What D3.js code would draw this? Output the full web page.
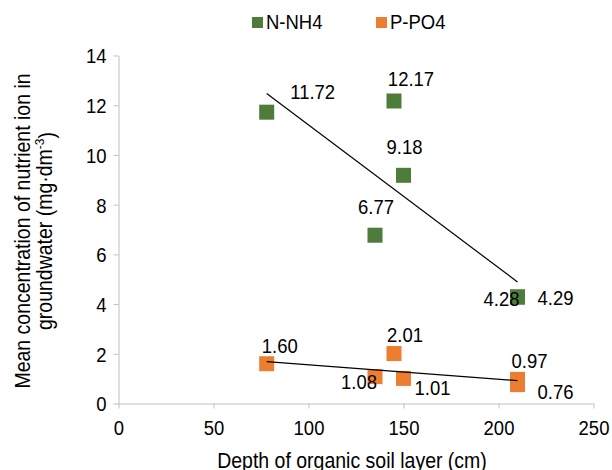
<!DOCTYPE html>
<html>
<head>
<meta charset="utf-8">
<script src="https://cdn.jsdelivr.net/npm/d3@7"></script>
<style>
  html, body { margin: 0; padding: 0; background: #ffffff; }
  svg { display: block; font-family: "Liberation Sans", Arial, sans-serif; }
</style>
</head>
<body>
<svg id="chart" width="612" height="470"></svg>
<script>
// ---- data ----
const depth = [78, 145, 150, 135, 210, 210];
const nNH4 = [11.72, 12.17, 9.18, 6.77, 4.28, 4.29];
const pDepth = [78, 145, 135, 150, 210, 210];
const pPO4 = [1.60, 2.01, 1.08, 1.01, 0.97, 0.76];
const seriesNames = ["N-NH4", "P-PO4"];
const xTicks = [0, 50, 100, 150, 200, 250];
const yTicks = [0, 2, 4, 6, 8, 10, 12, 14];

// label offsets (pixels) relative to markers
const nLabelOffsets = [[46, -21], [17, -22], [1, -29], [1, -29], [-16, 1], [38, 1]];
const pLabelOffsets = [[13, -18], [11, -19], [-16, 5], [29, 9], [12, -19], [38, 7]];

const colors = ["#4e7d3b", "#ed7d31"];
const SY = 1.12; // vertical stretch of the lettering

const svg = d3.select("#chart");
const x = d3.scaleLinear().domain([0, 250]).range([118.5, 593.5]);
const y = d3.scaleLinear().domain([0, 14]).range([403.5, 55.5]);

// axes
const xAxis = d3.axisBottom(x).tickValues(xTicks).tickSize(5).tickSizeOuter(0);
const yAxis = d3.axisLeft(y).tickValues(yTicks).tickSize(5).tickSizeOuter(0);

const gx = svg.append("g").attr("transform", `translate(0,${y(0)})`).call(xAxis);
const gy = svg.append("g").attr("transform", `translate(${x(0)},0)`).call(yAxis);
[gx, gy].forEach(g => {
  g.select(".domain").attr("stroke", "#bfbfbf").attr("stroke-width", 1);
  g.selectAll(".tick line").attr("stroke", "#bfbfbf").attr("stroke-width", 1);
  g.selectAll(".tick text").attr("fill", "#000").attr("font-size", 18.5)
    .attr("font-family", "Liberation Sans, Arial, sans-serif");
});
gx.selectAll(".tick text").attr("dy", null).attr("y", 0).attr("x", 0)
  .attr("transform", `translate(0,31) scale(1,${SY})`);
gy.selectAll(".tick text").attr("x", 0).attr("y", 0).attr("dy", "0.36em")
  .attr("transform", `translate(-12,0) scale(1,${SY})`);

// trend line (least squares)
function fit(xs, ys) {
  const n = xs.length;
  const mx = d3.mean(xs), my = d3.mean(ys);
  let sxy = 0, sxx = 0;
  for (let i = 0; i < n; i++) { sxy += (xs[i] - mx) * (ys[i] - my); sxx += (xs[i] - mx) ** 2; }
  const b = sxy / sxx, a = my - b * mx;
  const [x0, x1] = d3.extent(xs);
  return [[x0, a + b * x0], [x1, a + b * x1]];
}

const sets = [
  { xs: depth, ys: nNH4, off: nLabelOffsets, color: colors[0] },
  { xs: pDepth, ys: pPO4, off: pLabelOffsets, color: colors[1] }
];

const ms = 15;
sets.forEach(s => {
  svg.append("g").selectAll("rect").data(s.ys).join("rect")
    .attr("x", (d, i) => x(s.xs[i]) - ms / 2)
    .attr("y", d => y(d) - ms / 2)
    .attr("width", ms).attr("height", ms)
    .attr("fill", s.color);
});

const line = d3.line().x(d => x(d[0])).y(d => y(d[1]));
sets.forEach(s => {
  svg.append("path").datum(fit(s.xs, s.ys)).attr("d", line)
    .attr("fill", "none").attr("stroke", "#000").attr("stroke-width", 1.2);
});

sets.forEach(s => {
  svg.append("g").selectAll("text").data(s.ys).join("text")
    .attr("transform", (d, i) => `translate(${x(s.xs[i]) + s.off[i][0]},${y(d) + s.off[i][1]}) scale(1,${SY})`)
    .attr("dy", "0.36em")
    .attr("text-anchor", "middle")
    .attr("font-size", 18.5)
    .attr("fill", "#000")
    .text(d => d.toFixed(2));
});

// legend
const legX = [252, 376];
seriesNames.forEach((name, i) => {
  svg.append("rect").attr("x", legX[i]).attr("y", 17).attr("width", 11).attr("height", 11).attr("fill", colors[i]);
  svg.append("text").attr("transform", `translate(${legX[i] + 14},29) scale(1,${SY})`).attr("font-size", 18.5)
    .attr("fill", "#000").text(name);
});

// axis titles
svg.append("text").attr("transform", `translate(352,468) scale(1,${SY})`).attr("text-anchor", "middle")
  .attr("font-size", 19.5).attr("fill", "#000").text("Depth of organic soil layer (cm)");

const yt = svg.append("text").attr("transform", `translate(22,231) rotate(-90) scale(1,${SY})`)
  .attr("text-anchor", "middle").attr("font-size", 19.5).attr("fill", "#000");
yt.append("tspan").attr("x", 0).attr("y", 0).attr("dy", "0.36em").text("Mean concentration of nutrient ion in");
const t2 = yt.append("tspan").attr("x", 0).attr("y", 20).attr("dy", "0.36em").text("groundwater (mg·dm");
t2.append("tspan").attr("font-size", 12).attr("dy", "-0.6em").text("-3");
t2.append("tspan").attr("dy", "0.45em").text(")");
</script>
</body>
</html>
